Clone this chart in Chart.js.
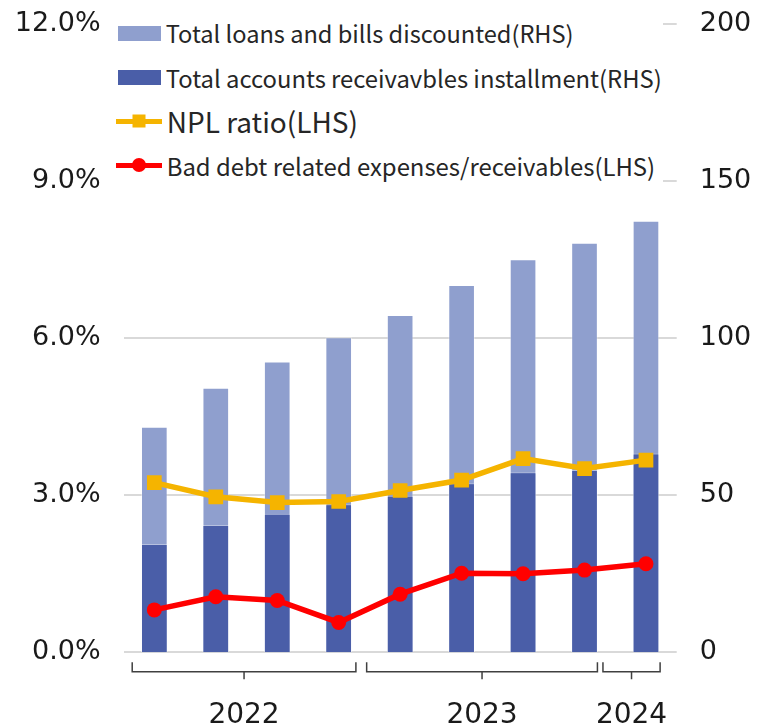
<!DOCTYPE html>
<html>
<head>
<meta charset="utf-8">
<script src="https://cdn.jsdelivr.net/npm/chart.js@4.4.1/dist/chart.umd.min.js"></script>
<style>
body{margin:0;background:#fff;}
#contenedor{position:relative;width:766px;height:726px;}
#leyenda{position:absolute;left:105px;top:4px;width:558px;height:183px;background:#fff;padding-top:7px;box-sizing:border-box;font-family:"Noto Sans CJK JP";color:#262626;}
.fila{height:44px;display:flex;align-items:center;white-space:nowrap;}
.caja{margin-left:12.7px;width:43px;height:15px;margin-right:5px;flex:none;}
.linea{position:relative;margin-left:10.7px;width:46px;height:5px;margin-right:5px;flex:none;}
.marca{position:absolute;left:50%;top:50%;transform:translate(-50%,-50%);}
</style>
</head>
<body>
<div id="contenedor">
<canvas id="grafica" width="766" height="726"></canvas>
<div id="leyenda"></div>
</div>
<script>
// datos
const categorias = ['1Q', '2Q', '3Q', '4Q', '1Q', '2Q', '3Q', '4Q', '1Q'];
const prestamos_totales = [71.8, 84.2, 92.6, 100.3, 107.4, 116.9, 125.1, 130.4, 137.4];
const cuentas_cobrar = [34.5, 40.5, 44.1, 47.1, 49.8, 53.8, 57.3, 58.0, 63.3];
const ratio_npl = [3.24, 2.97, 2.86, 2.88, 3.09, 3.29, 3.70, 3.51, 3.67];
const gastos_deuda = [0.81, 1.06, 0.99, 0.57, 1.11, 1.51, 1.50, 1.57, 1.69];
const ticks_izq = [0, 3, 6, 9, 12];
const ticks_der = [0, 50, 100, 150, 200];
const anios = ['2022', '2023', '2024'];
const anios_rango = [[0, 3], [4, 7], [8, 8]];

const etiquetas = [
	'Total loans and bills discounted(RHS)',
	'Total accounts receivavbles installment(RHS)',
	'NPL ratio(LHS)',
	'Bad debt related expenses/receivables(LHS)'
];

const azul_claro = '#8F9FCE';
const azul_oscuro = '#4A5EA8';
const naranja = '#F5B400';
const rojo = '#FF0000';

// llaves de los anios debajo del eje
const margen_llaves = [[-0.36, 0.28], [-0.545, 0.21], [-0.70, 0.23]];
const plugin_llaves = {
	id: 'llaves',
	afterDraw(chart) {
		const ctx = chart.ctx;
		const x = chart.scales.x;
		const abajo = chart.chartArea.bottom;
		const ancho = x.getPixelForValue(1) - x.getPixelForValue(0);
		ctx.save();
		ctx.strokeStyle = '#404040';
		ctx.lineWidth = 1.5;
		ctx.fillStyle = '#1a1a1a';
		ctx.font = '28px "DejaVu Sans"';
		ctx.textAlign = 'center';
		ctx.textBaseline = 'alphabetic';
		anios_rango.forEach((r, i) => {
			const x1 = x.getPixelForValue(r[0]) + margen_llaves[i][0] * ancho;
			const x2 = x.getPixelForValue(r[1]) + margen_llaves[i][1] * ancho;
			const xm = (x1 + x2) / 2;
			ctx.beginPath();
			ctx.moveTo(x1, abajo + 10);
			ctx.lineTo(x1, abajo + 19.5);
			ctx.lineTo(x2, abajo + 19.5);
			ctx.lineTo(x2, abajo + 10);
			ctx.moveTo(xm, abajo + 19.5);
			ctx.lineTo(xm, abajo + 27);
			ctx.stroke();
			ctx.fillText(anios[i], xm, abajo + 71);
		});
		ctx.restore();
	}
};

function crear_grafica()
{
	const lienzo = document.getElementById('grafica');
	new Chart(lienzo, {
		type: 'bar',
		data: {
			labels: categorias,
			datasets: [
				{
					type: 'line', label: etiquetas[2], data: ratio_npl, yAxisID: 'y',
					borderColor: naranja, backgroundColor: naranja, borderWidth: 5.5,
					pointStyle: 'rect', pointRadius: 10.4, pointBorderWidth: 0, order: 1
				},
				{
					type: 'line', label: etiquetas[3], data: gastos_deuda, yAxisID: 'y',
					borderColor: rojo, backgroundColor: rojo, borderWidth: 5.5,
					pointStyle: 'circle', pointRadius: 7.5, pointBorderWidth: 0, order: 0
				},
				{
					label: etiquetas[1], data: cuentas_cobrar, yAxisID: 'y2',
					backgroundColor: azul_oscuro, borderColor: 'rgba(255,255,255,0.35)', borderWidth: 1,
					grouped: false, order: 2
				},
				{
					label: etiquetas[0], data: prestamos_totales, yAxisID: 'y2',
					backgroundColor: azul_claro, borderColor: 'rgba(255,255,255,0.35)', borderWidth: 1,
					grouped: false, order: 3
				}
			]
		},
		options: {
			responsive: false,
			animation: false,
			devicePixelRatio: 1,
			categoryPercentage: 1,
			barPercentage: 0.434,
			layout: { padding: { top: 24, bottom: 73.7, left: 0, right: 0 } },
			plugins: { legend: { display: false }, tooltip: { enabled: false } },
			scales: {
				x: { display: false, offset: true },
				y: {
					position: 'left', min: 0, max: 12,
					afterBuildTicks: s => { s.ticks = ticks_izq.map(v => ({ value: v })); },
					afterFit: s => { s.width = 123.6; s.paddingTop = 0; s.paddingBottom = 0; },
					border: { display: false },
					grid: { color: '#D9D9D9', lineWidth: 2, drawTicks: false },
					ticks: {
						padding: 23, color: '#1a1a1a',
						font: { family: 'DejaVu Sans', size: 27 },
						callback: v => v.toFixed(1) + '%'
					}
				},
				y2: {
					position: 'right', min: 0, max: 200,
					afterBuildTicks: s => { s.ticks = ticks_der.map(v => ({ value: v })); },
					afterFit: s => { s.width = 89.3; s.paddingTop = 0; s.paddingBottom = 0; },
					border: { display: false },
					grid: { display: false, drawTicks: false },
					ticks: {
						padding: 23, color: '#1a1a1a',
						font: { family: 'DejaVu Sans', size: 27 }
					}
				}
			}
		},
		plugins: [plugin_llaves]
	});
}

function crear_leyenda()
{
	const tamanios = [23.6, 23.8, 28, 23.9];
	let html = '';
	html += '<div class="fila"><span class="caja" style="background:' + azul_claro + '"></span>' +
		'<span style="font-size:' + tamanios[0] + 'px">' + etiquetas[0] + '</span></div>';
	html += '<div class="fila"><span class="caja" style="background:' + azul_oscuro + '"></span>' +
		'<span style="font-size:' + tamanios[1] + 'px">' + etiquetas[1] + '</span></div>';
	html += '<div class="fila"><span class="linea" style="background:' + naranja + '">' +
		'<span class="marca" style="width:13px;height:13px;background:' + naranja + '"></span></span>' +
		'<span style="font-size:' + tamanios[2] + 'px">' + etiquetas[2] + '</span></div>';
	html += '<div class="fila"><span class="linea" style="background:' + rojo + '">' +
		'<span class="marca" style="width:14px;height:14px;border-radius:50%;background:' + rojo + '"></span></span>' +
		'<span style="font-size:' + tamanios[3] + 'px">' + etiquetas[3] + '</span></div>';
	document.getElementById('leyenda').innerHTML = html;
}

crear_grafica();
crear_leyenda();
</script>
</body>
</html>
